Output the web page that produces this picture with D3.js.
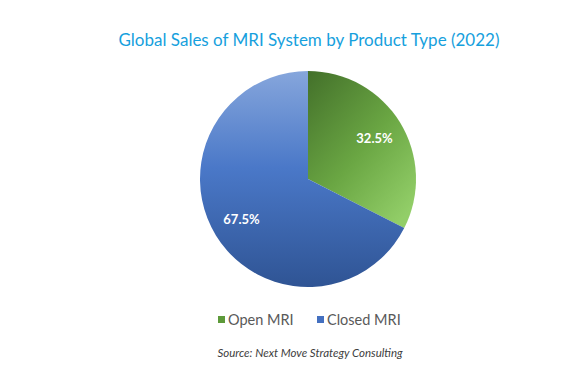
<!DOCTYPE html>
<html>
<head>
<meta charset="utf-8">
<title>Global Sales of MRI System by Product Type</title>
<script src="https://d3js.org/d3.v7.min.js"></script>
<style>
  body { margin: 0; background: #fff; }
  text { font-family: Lato, "Open Sans", sans-serif; }
</style>
</head>
<body>
<div id="chart"></div>
<script>
// data
var categories = ["Open MRI", "Closed MRI"];
var shares = [32.5, 67.5];
var labels = ["32.5%", "67.5%"];

var width = 576, height = 384;
var cx = 308, cy = 179, radius = 108;

var svg = d3.select("#chart")
  .append("svg")
    .attr("width", width)
    .attr("height", height);

// gradients, excel-ish shading
var defs = svg.append("defs");
var gGreen = defs.append("linearGradient")
    .attr("id", "gradGreen")
    .attr("x1", "0%").attr("y1", "0%")
    .attr("x2", "80%").attr("y2", "100%");
gGreen.append("stop").attr("offset", "0%").attr("stop-color", "#43702a");
gGreen.append("stop").attr("offset", "55%").attr("stop-color", "#6aa643");
gGreen.append("stop").attr("offset", "100%").attr("stop-color", "#92ce68");

var gBlue = defs.append("linearGradient")
    .attr("id", "gradBlue")
    .attr("x1", "0%").attr("y1", "0%")
    .attr("x2", "0%").attr("y2", "100%");
gBlue.append("stop").attr("offset", "0%").attr("stop-color", "#86a6dc");
gBlue.append("stop").attr("offset", "45%").attr("stop-color", "#4a78c8");
gBlue.append("stop").attr("offset", "100%").attr("stop-color", "#2f5494");

var fills = ["url(#gradGreen)", "url(#gradBlue)"];
var swatch = ["#5d9a3a", "#4470c0"];

// title
svg.append("text")
  .attr("x", 309)
  .attr("y", 46)
  .attr("text-anchor", "middle")
  .style("font-size", "17px")
  .style("fill", "#16a0dd")
  .text("Global Sales of MRI System by Product Type (2022)");

var pie = d3.pie().sort(null).value(function(d) { return d; });
var arcs = pie(shares);
var arc = d3.arc().innerRadius(0).outerRadius(radius);
var labelArc = d3.arc().innerRadius(78).outerRadius(78);

var g = svg.append("g")
  .attr("transform", "translate(" + cx + "," + cy + ")");

g.selectAll("path")
  .data(arcs)
  .enter()
  .append("path")
    .attr("d", arc)
    .attr("fill", function(d, i) { return fills[i]; });

g.selectAll("text.lbl")
  .data(arcs)
  .enter()
  .append("text")
    .attr("class", "lbl")
    .attr("transform", function(d) { return "translate(" + labelArc.centroid(d) + ")"; })
    .attr("text-anchor", "middle")
    .attr("dy", "0.35em")
    .style("font-size", "13px")
    .style("font-weight", "bold")
    .style("fill", "#fff")
    .text(function(d, i) { return labels[i]; });

// legend
var legX = [218, 317];
var leg = svg.append("g");
categories.forEach(function(c, i) {
  leg.append("rect")
    .attr("x", legX[i])
    .attr("y", 316)
    .attr("width", 7)
    .attr("height", 7)
    .attr("fill", swatch[i]);
  leg.append("text")
    .attr("x", legX[i] + 10)
    .attr("y", 325)
    .style("font-size", "14.5px")
    .style("fill", "#595959")
    .text(c);
});

// source
svg.append("text")
  .attr("x", 310)
  .attr("y", 357)
  .attr("text-anchor", "middle")
  .style("font-size", "11.5px")
  .style("font-style", "italic")
  .style("fill", "#404040")
  .text("Source: Next Move Strategy Consulting");
</script>
</body>
</html>
